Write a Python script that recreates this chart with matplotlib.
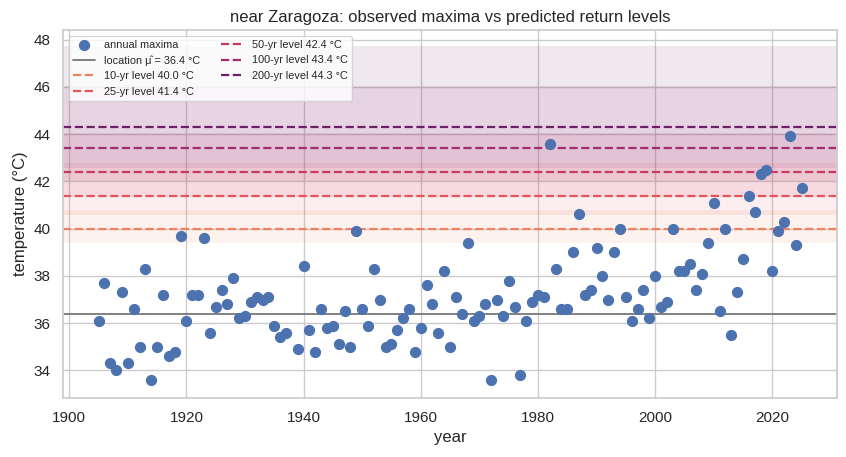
import numpy as np
import matplotlib
matplotlib.use("Agg")
import matplotlib.pyplot as plt
import seaborn as sns

# annual maximum temperature near Zaragoza
years = list(range(1905, 1938)) + list(range(1939, 2026))
tmax = [36.1, 37.7, 34.3, 34.0, 37.3, 34.3, 36.6, 35.0, 38.3, 33.6,
        35.0, 37.2, 34.6, 34.8, 39.7, 36.1, 37.2, 37.2, 39.6, 35.6,
        36.7, 37.4, 36.8, 37.9, 36.2, 36.3, 36.9, 37.1, 37.0, 37.1,
        35.9, 35.4, 35.6,
        34.9, 38.4, 35.7, 34.8, 36.6, 35.8, 35.9, 35.1, 36.5, 35.0,
        39.9, 36.6, 35.9, 38.3, 37.0, 35.0, 35.1, 35.7, 36.2, 36.6,
        34.8, 35.8, 37.6, 36.8, 35.6, 38.2, 35.0, 37.1, 36.4, 39.4,
        36.1, 36.3, 36.8, 33.6, 37.0, 36.3, 37.8, 36.7, 33.8, 36.1,
        36.9, 37.2, 37.1, 43.6, 38.3, 36.6, 36.6, 39.0, 40.6, 37.2,
        37.4, 39.2, 38.0, 37.0, 39.0, 40.0, 37.1, 36.1, 36.6, 37.4,
        36.2, 38.0, 36.7, 36.9, 40.0, 38.2, 38.2, 38.5, 37.4, 38.1,
        39.4, 41.1, 36.5, 40.0, 35.5, 37.3, 38.7, 41.4, 40.7, 42.3,
        42.5, 38.2, 39.9, 40.3, 43.9, 39.3, 41.7]

mu_hat = 36.4
periods = [10, 25, 50, 100, 200]
levels = [40.0, 41.4, 42.4, 43.4, 44.3]
ci_low = [39.4, 40.56, 41.34, 42.01, 42.55]
ci_high = [40.81, 42.78, 44.05, 46.03, 47.75]
colors = ["#ef8360", "#e4555a", "#c93a63", "#a12d6d", "#6f1f6a"]

sns.set_theme(style="whitegrid")
plt.rcParams["font.family"] = ["Liberation Sans", "DejaVu Sans"]

fig, ax = plt.subplots(figsize=(8.46, 4.57), dpi=100)
fig.subplots_adjust(left=0.075, right=0.989, bottom=0.13, top=0.934)

ax.scatter(years, tmax, s=50, color="#4c72b0", zorder=3, label="annual maxima")
ax.axhline(mu_hat, color="#777777", lw=1.3, zorder=2,
           label="location \u03bc\u0302 = %.1f \u00b0C" % mu_hat)

for T, lev, lo, hi, c in zip(periods, levels, ci_low, ci_high, colors):
    ax.axhspan(lo, hi, color=c, alpha=0.1, lw=0, zorder=1)
    ax.axhline(lev, color=c, ls="--", lw=1.6, zorder=2,
               label="%d-yr level %.1f \u00b0C" % (T, lev))

ax.set_xlim(1899, 2031)
ax.set_ylim(32.85, 48.4)
ax.set_yticks(np.arange(34, 49, 2))
ax.set_xlabel("year")
ax.set_ylabel("temperature (\u00b0C)")
ax.set_title("near Zaragoza: observed maxima vs predicted return levels")
ax.legend(loc="upper left", ncol=2, fontsize=7.8, frameon=True)

fig.savefig("out.png", dpi=100)
